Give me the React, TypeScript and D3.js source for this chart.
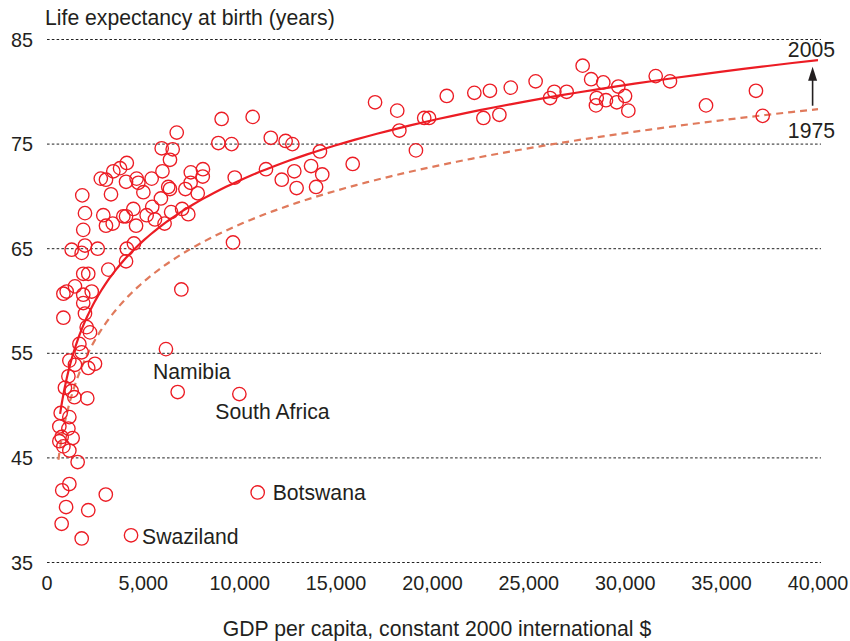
import React from "react";
import * as d3 from "d3";

// GDP per capita (constant 2000 international $) and life expectancy (years), 2005
const gdpPerCapita = [
  6730, 8890, 9580, 9060, 10670, 5950, 6520, 6380, 4140, 3790,
  3440, 2790, 3060, 4100, 4650, 4740, 5430, 5990, 5000, 3320,
  1830, 6290, 6380, 5910, 7460, 8090, 8080, 7450, 7180, 7820,
  9740, 1970, 2920, 3060, 3410, 3960, 4100, 4480, 4620, 5170,
  5460, 5600, 6100, 6440, 7010, 7330, 1880, 1280, 1800, 1970,
  2630, 4140, 4510, 4100, 3180, 1880, 2140, 9650, 6970, 850,
  1020, 1450, 1880, 2320, 1880, 1970, 850, 2060, 2230, 1680,
  1800, 6170, 1160, 1450, 2140, 2490, 1110, 930, 1280, 1420,
  2090, 6780, 9980, 710, 640, 1160, 1110, 1330, 760, 640,
  850, 1160, 1590, 1160, 790, 3050, 10930, 990, 2140, 760,
  1800, 4360, 11610, 12380, 12730, 11360, 14160, 12180, 12830, 12950,
  13700, 14280, 13960, 15860, 17020, 18170, 18280, 19140, 19570, 19820,
  20740, 22170, 22980, 22640, 23470, 24060, 25350, 26100, 26320, 26960,
  27790, 28230, 28860, 28520, 28480, 29000, 29640, 29990, 29560, 30160,
  31580, 32320, 34190, 36780, 37130,
];
const lifeExpectancy = [
  76.1, 75.1, 75.0, 77.4, 77.6, 74.6, 74.5, 73.5, 73.2, 72.7,
  72.4, 71.7, 71.6, 71.4, 71.7, 71.3, 71.7, 72.4, 70.4, 70.2,
  70.1, 70.9, 70.7, 69.8, 72.3, 72.6, 71.9, 71.3, 70.7, 70.3,
  71.8, 68.4, 68.2, 67.2, 67.4, 68.1, 68.1, 68.8, 67.2, 68.2,
  69.0, 67.8, 67.4, 68.5, 68.8, 68.3, 66.8, 64.9, 64.6, 65.3,
  65.0, 65.0, 65.5, 63.8, 63.0, 62.6, 62.6, 65.6, 61.1, 60.7,
  60.9, 61.4, 60.6, 60.9, 59.8, 58.8, 58.4, 57.5, 57.0, 55.9,
  55.1, 55.4, 54.3, 53.9, 53.6, 54.0, 52.8, 51.7, 51.4, 50.8,
  50.7, 51.3, 51.1, 49.3, 48.0, 48.9, 47.8, 46.9, 47.0, 46.6,
  46.1, 45.7, 44.6, 42.5, 41.9, 41.5, 41.7, 40.3, 40.0, 38.7,
  37.3, 37.6, 75.6, 75.3, 75.0, 72.6, 74.3, 71.6, 72.4, 70.8,
  72.9, 72.1, 70.9, 73.1, 79.0, 78.2, 76.3, 74.4, 77.5, 77.5,
  79.6, 79.9, 80.1, 77.5, 77.8, 80.4, 81.0, 79.4, 80.0, 80.0,
  82.5, 81.2, 80.9, 79.4, 78.7, 79.2, 80.5, 79.6, 79.0, 78.2,
  81.5, 81.0, 78.7, 80.1, 77.7,
];

// Named outliers
const labelNames = ["Namibia", "South Africa", "Botswana", "Swaziland"];
const labelGdp = [6170, 9980, 10930, 4360];
const labelLife = [55.4, 51.1, 41.7, 37.6];

// Log fits: life = a + b * ln(gdp)
const curveYears = ["2005", "1975"];
const curveIntercept = [-4.92, -5.9];
const curveSlope = [8.3, 7.95];
const curveStartGdp = [680, 590];

const xTicks = [0, 5000, 10000, 15000, 20000, 25000, 30000, 35000, 40000];
const yTicks = [35, 45, 55, 65, 75, 85];

const WIDTH = 850;
const HEIGHT = 641;
const FONT = "'Liberation Sans', Arial, Helvetica, sans-serif";
const TEXT = "#231f20";
const RED = "#ec1c24";
const SALMON = "#e07a5c";
const LABEL_SIZE = 21.2;
const TICK_SIZE = 19.8;

const labelOffsets: Record<string, [number, number]> = {
  Namibia: [-13, 30],
  "South Africa": [-24, 25],
  Botswana: [15, 8],
  Swaziland: [11, 9],
};

export default function App() {
  const x = d3.scaleLinear().domain([0, 40000]).range([47, 818]);
  const y = d3.scaleLinear().domain([35, 85]).range([562.5, 39.5]);
  const fmt = d3.format(",");

  const curves = curveYears.map((year, i) => {
    const g = d3.range(0, 121).map((k) => curveStartGdp[i] * Math.pow(40000 / curveStartGdp[i], k / 120));
    const line = d3
      .line<number>()
      .x((v) => x(v))
      .y((v) => y(curveIntercept[i] + curveSlope[i] * Math.log(v)));
    return { year, d: line(g) as string, end: curveIntercept[i] + curveSlope[i] * Math.log(40000) };
  });

  const arrowGdp = 39720;
  const arrowX = x(arrowGdp);
  const arrowTop = y(curveIntercept[0] + curveSlope[0] * Math.log(arrowGdp)) + 6;
  const arrowBottom = y(curveIntercept[1] + curveSlope[1] * Math.log(arrowGdp)) - 4;

  return (
    <svg
      width={WIDTH}
      height={HEIGHT}
      style={{ position: "absolute", left: 0, top: 0, background: "#fff" }}
      fontFamily={FONT}
    >
      {/* horizontal gridlines and y tick labels */}
      {yTicks.map((t) => (
        <g key={t}>
          <line
            x1={47}
            x2={821}
            y1={y(t)}
            y2={y(t)}
            stroke="#222"
            strokeWidth={1}
            strokeDasharray="2.6,2.2"
          />
          <text x={33} y={y(t) + 7} textAnchor="end" fontSize={TICK_SIZE} fill={TEXT}>
            {t}
          </text>
        </g>
      ))}

      {/* x tick labels */}
      {xTicks.map((t) => (
        <text key={t} x={x(t)} y={590} textAnchor="middle" fontSize={TICK_SIZE} fill={TEXT}>
          {fmt(t)}
        </text>
      ))}

      <text x={45} y={25} fontSize={LABEL_SIZE} fill={TEXT}>
        Life expectancy at birth (years)
      </text>
      <text x={437} y={636} textAnchor="middle" fontSize={LABEL_SIZE} fill={TEXT}>
        GDP per capita, constant 2000 international $
      </text>

      {/* fitted curves */}
      <path d={curves[1].d} fill="none" stroke={SALMON} strokeWidth={2.2} strokeDasharray="7,5" />
      <path d={curves[0].d} fill="none" stroke={RED} strokeWidth={2.2} />

      {/* countries */}
      {gdpPerCapita.map((g, i) => (
        <circle
          key={i}
          cx={x(g)}
          cy={y(lifeExpectancy[i])}
          r={6.7}
          fill="none"
          stroke={RED}
          strokeWidth={1.35}
        />
      ))}

      {labelNames.map((name, i) => (
        <text
          key={name}
          x={x(labelGdp[i]) + labelOffsets[name][0]}
          y={y(labelLife[i]) + labelOffsets[name][1]}
          fontSize={LABEL_SIZE}
          fill={TEXT}
        >
          {name}
        </text>
      ))}

      {/* change between the two years */}
      <line x1={arrowX} x2={arrowX} y1={arrowBottom} y2={arrowTop + 12} stroke={TEXT} strokeWidth={1.6} />
      <path
        d={`M${arrowX},${arrowTop} L${arrowX - 4.5},${arrowTop + 14} L${arrowX + 4.5},${arrowTop + 14} Z`}
        fill={TEXT}
      />
      <text x={835} y={y(curves[0].end) - 3} textAnchor="end" fontSize={LABEL_SIZE} fill={TEXT}>
        {curves[0].year}
      </text>
      <text x={835} y={y(curves[1].end) + 29} textAnchor="end" fontSize={LABEL_SIZE} fill={TEXT}>
        {curves[1].year}
      </text>
    </svg>
  );
}
